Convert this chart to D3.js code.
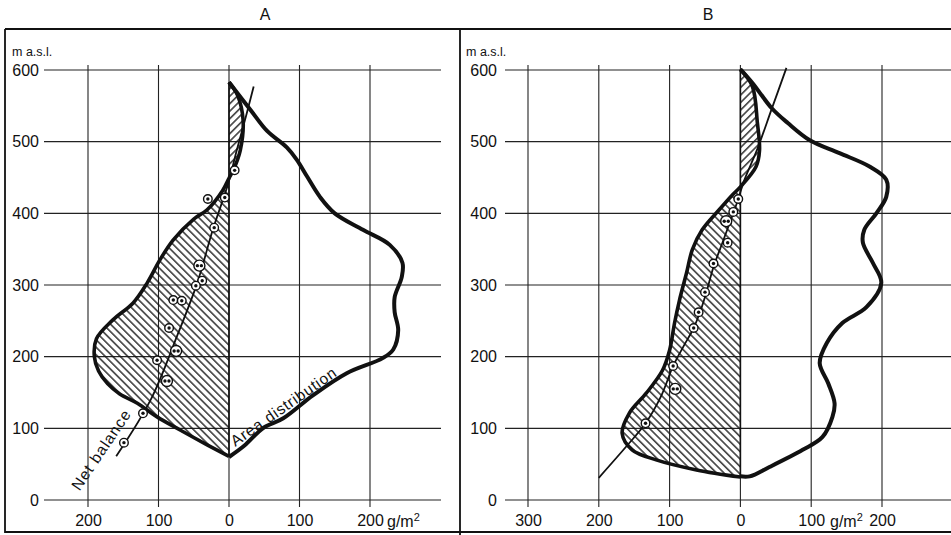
<!DOCTYPE html>
<html lang="en">
<head>
<meta charset="UTF-8">
<title>Net balance and area distribution A / B</title>
<style>
  body { margin: 0; background: #fff; }
  svg text { font-family: "Liberation Sans", Arial, Helvetica, sans-serif; fill: #111; }
</style>
</head>
<body>
<div id="chart"></div>
<script src="https://d3js.org/d3.v7.min.js"></script>
<script>
// altitude grid (m a.s.l.)
const altTicks = [0, 100, 200, 300, 400, 500, 600];
// x ticks in g/m2, left of zero is negative
const ticksA = [-200, -100, 0, 100, 200];
const ticksB = [-300, -200, -100, 0, 100, 200];

// ---- panel A : [g/m2, m a.s.l.] ----
const areaA = [[0, 60], [22, 76], [48, 100], [77, 114], [119, 146], [167, 177], [218, 198], [233, 210],
  [240, 237], [235, 262], [235, 283], [245, 311], [246, 331], [228, 356], [190, 377], [150, 400],
  [129, 423], [111, 451], [96, 475], [82, 492], [54, 515], [30, 545], [0, 583]];
const budgetA = [[0, 61], [-31, 77], [-70, 98], [-102, 116], [-130, 135], [-155, 148], [-172, 162],
  [-185, 180], [-191, 200], [-188, 225], [-165, 251], [-136, 275], [-116, 303], [-98, 335], [-79, 363],
  [-50, 392], [-31, 405], [-9, 432], [0, 449], [6, 460], [16, 488], [20, 530], [12, 565], [0, 583]];
const balanceA = [[-160, 61], [-111, 140], [-74, 228], [-45, 303], [-23, 377], [-1, 442], [11, 488],
  [24, 535], [35, 577]];
// [g/m2, m, dots in marker]
const pointsA = [[8, 460, 1], [-30, 420, 1], [-6, 422, 1], [-21, 380, 1], [-42, 327, 2], [-38, 306, 1],
  [-47, 299, 1], [-79, 279, 1], [-67, 278, 1], [-85, 240, 1], [-75, 208, 2], [-102, 195, 1],
  [-88, 166, 2], [-122, 121, 1], [-149, 80, 1]];

// ---- panel B ----
const areaB = [[0, 33], [13, 33], [41, 46], [88, 70], [116, 88], [130, 116], [133, 135], [124, 163],
  [112, 191], [122, 219], [144, 247], [178, 269], [199, 303], [187, 331], [173, 359], [175, 377],
  [192, 400], [206, 423], [206, 447], [183, 465], [140, 484], [98, 502], [67, 526], [44, 547],
  [17, 582], [0, 601]];
const budgetB = [[0, 32], [-62, 42], [-119, 56], [-153, 70], [-167, 93], [-157, 121], [-133, 149],
  [-110, 181], [-100, 209], [-93, 247], [-86, 279], [-76, 317], [-68, 349], [-54, 377], [-30, 405],
  [-12, 425], [0, 437], [22, 465], [27, 488], [24, 526], [17, 577], [0, 601]];
const balanceB = [[-200, 31], [-160, 76], [-134, 107], [-112, 145], [-95, 187], [-80, 215], [-66, 240],
  [-55, 268], [-48, 290], [-38, 325], [-25, 360], [-12, 395], [-3, 420], [5, 445], [24, 490],
  [44, 545], [65, 603]];
const pointsB = [[-3, 420, 1], [-10, 402, 1], [-20, 389, 2], [-18, 359, 1], [-38, 330, 1], [-50, 290, 1],
  [-59, 262, 1], [-66, 240, 1], [-95, 187, 1], [-92, 155, 2], [-134, 107, 1]];

const W = 951, H = 535;
const svg = d3.select("#chart").append("svg").attr("width", W).attr("height", H);
const defs = svg.append("defs");

// hatching: "\" for negative side, "/" for positive side
function hatch(id, angle) {
  defs.append("pattern")
      .attr("id", id)
      .attr("patternUnits", "userSpaceOnUse")
      .attr("width", 5.3).attr("height", 10)
      .attr("patternTransform", "rotate(" + angle + ")")
    .append("line")
      .attr("x1", 2.6).attr("x2", 2.6).attr("y1", 0).attr("y2", 10)
      .attr("stroke", "#111").attr("stroke-width", 1.3);
}
hatch("hatchNeg", -45);
hatch("hatchPos", 45);

const y = d3.scaleLinear().domain([0, 600]).range([500, 70]);

function drawPanel(p) {
  const g = svg.append("g");
  const x = d3.scaleLinear().domain(p.domain).range(p.range);

  // frame and title
  g.append("text").attr("x", p.titleX).attr("y", 20).attr("text-anchor", "middle")
    .attr("font-size", 16).text(p.title);
  g.append("text").attr("x", p.unitX).attr("y", 56).attr("font-size", 12.5).text("m a.s.l.");

  // grid
  g.selectAll("line.h").data(altTicks).join("line").attr("class", "h")
    .attr("x1", p.gridLeft).attr("x2", p.gridRight)
    .attr("y1", d => y(d)).attr("y2", d => y(d))
    .attr("stroke", "#222").attr("stroke-width", 1.1);
  g.selectAll("line.v").data(p.ticks).join("line").attr("class", "v")
    .attr("x1", d => x(d)).attr("x2", d => x(d))
    .attr("y1", y(600) - 5).attr("y2", y(0) + 7)
    .attr("stroke", "#222").attr("stroke-width", 1.1);

  // axes (labels only)
  const ax = g.append("g").attr("transform", "translate(0," + y(0) + ")")
    .call(d3.axisBottom(x).tickValues(p.ticks).tickFormat(d => Math.abs(d)).tickSize(0).tickPadding(15));
  ax.select(".domain").remove();
  ax.attr("font-size", 16).attr("font-family", null);
  ax.selectAll("text").attr("fill", "#111");

  const ay = g.append("g").attr("transform", "translate(" + p.gridLeft + ",0)")
    .call(d3.axisLeft(y).tickValues(altTicks).tickSize(0).tickPadding(p.yPad));
  ay.select(".domain").remove();
  ay.attr("font-size", 16).attr("font-family", null);
  ay.selectAll("text").attr("fill", "#111");

  const unit = g.append("text").attr("x", p.gX).attr("y", 527).attr("font-size", 16);
  unit.append("tspan").text("g/m");
  unit.append("tspan").attr("dy", -6).attr("font-size", 11).text("2");

  const line = d3.line().x(d => x(d[0])).y(d => y(d[1])).curve(d3.curveCatmullRom.alpha(0.5));

  // hatched budget area split on the zero line
  const cid = "clip" + p.title;
  defs.append("clipPath").attr("id", cid + "n").append("rect")
    .attr("x", p.gridLeft).attr("y", 0).attr("width", x(0) - p.gridLeft).attr("height", H);
  defs.append("clipPath").attr("id", cid + "p").append("rect")
    .attr("x", x(0)).attr("y", 0).attr("width", p.gridRight - x(0)).attr("height", H);
  const fillD = line(p.budget) + "Z";
  g.append("path").attr("d", fillD).attr("fill", "url(#hatchNeg)").attr("clip-path", "url(#" + cid + "n)");
  g.append("path").attr("d", fillD).attr("fill", "url(#hatchPos)").attr("clip-path", "url(#" + cid + "p)");
  g.append("line").attr("x1", x(0)).attr("x2", x(0))
    .attr("y1", y(d3.min(p.budget, d => d[1]))).attr("y2", y(d3.max(p.budget, d => d[1])))
    .attr("stroke", "#111").attr("stroke-width", 1.6);

  // curves
  g.append("path").attr("d", line(p.budget)).attr("fill", "none")
    .attr("stroke", "#111").attr("stroke-width", 3.6).attr("stroke-linejoin", "round");
  g.append("path").attr("d", line(p.area)).attr("fill", "none")
    .attr("stroke", "#111").attr("stroke-width", 4).attr("stroke-linejoin", "round");
  g.append("path").attr("d", line(p.balance)).attr("fill", "none")
    .attr("stroke", "#111").attr("stroke-width", 1.8);

  // measured points
  const pt = g.selectAll("g.pt").data(p.points).join("g").attr("class", "pt")
    .attr("transform", d => "translate(" + x(d[0]) + "," + y(d[1]) + ")");
  pt.append("circle").attr("r", d => d[2] > 1 ? 5.5 : 4.3)
    .attr("fill", "#fff").attr("stroke", "#111").attr("stroke-width", 1.4);
  pt.each(function (d) {
    const offs = d[2] > 1 ? [-2, 2] : [0];
    d3.select(this).selectAll("circle.dot").data(offs).join("circle").attr("class", "dot")
      .attr("cx", o => o).attr("r", 1.7).attr("fill", "#111");
  });

  // curve labels
  (p.labels || []).forEach(l => {
    g.append("text")
      .attr("transform", "translate(" + x(l.v) + "," + y(l.m) + ") rotate(" + l.angle + ")")
      .attr("font-size", 15.5).attr("letter-spacing", l.spacing)
      .text(l.text);
  });
}

drawPanel({
  title: "A", titleX: 265, unitX: 12,
  domain: [-200, 200], range: [88, 370], ticks: ticksA,
  gridLeft: 44, gridRight: 441, yPad: 5, gX: 387,
  area: areaA, budget: budgetA, balance: balanceA, points: pointsA,
  labels: [
    { text: "Net balance", v: -212, m: 12, angle: -56, spacing: 1 },
    { text: "Area distribution", v: 9, m: 74, angle: -35, spacing: 0.8 }
  ]
});

drawPanel({
  title: "B", titleX: 708, unitX: 466,
  domain: [-300, 200], range: [528, 882], ticks: ticksB,
  gridLeft: 505, gridRight: 951, yPad: 8, gX: 830,
  area: areaB, budget: budgetB, balance: balanceB, points: pointsB
});

// panel frames
svg.append("path")
  .attr("d", "M5,29H951M5,29V532H951M460,29V535")
  .attr("fill", "none").attr("stroke", "#111").attr("stroke-width", 1.8);
</script>
</body>
</html>
